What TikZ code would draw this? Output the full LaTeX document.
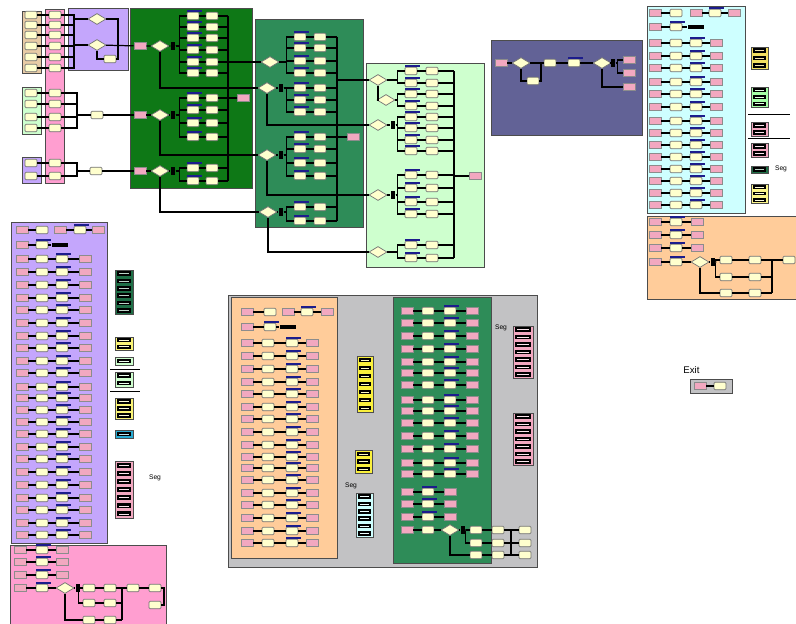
\documentclass[tikz,border=0pt]{standalone}
\usepackage{fontspec}
\setmainfont{Liberation Sans}
\usetikzlibrary{positioning, shapes.geometric}

\definecolor{dkgreen}{RGB}{14,120,22}
\definecolor{seagrn}{RGB}{46,140,88}
\definecolor{ltgreen}{RGB}{206,255,206}
\definecolor{lavender}{RGB}{196,166,252}
\definecolor{slate}{RGB}{98,98,150}
\definecolor{ltcyan}{RGB}{206,255,255}
\definecolor{peach}{RGB}{255,204,154}
\definecolor{rosa}{RGB}{255,158,208}
\definecolor{tanbg}{RGB}{232,204,166}
\definecolor{grybg}{RGB}{194,194,196}
\definecolor{entpink}{RGB}{242,168,192}
\definecolor{cream}{RGB}{255,255,206}
\definecolor{qblue}{RGB}{28,28,140}
\definecolor{lgdyel}{RGB}{250,240,60}
\definecolor{lgdcyan}{RGB}{40,170,210}
\definecolor{lgdgrn}{RGB}{30,110,70}

\tikzset{
  area/.style={draw=black!70, line width=0.5pt},
  ent/.style={draw=black!45, fill=entpink, minimum width=0.24cm, minimum height=0.15cm, inner sep=0pt},
  blk/.style={draw=black!55, fill=cream, minimum width=0.24cm, minimum height=0.15cm, inner sep=0pt, rounded corners=0.6pt},
  qbar/.style={fill=qblue, inner sep=0pt, minimum width=0.3cm, minimum height=0.9pt, xshift=1pt},
  qbox/.style={blk, label distance=0.6pt, label={[qbar]above:{}}},
  dec/.style={diamond, draw=black!55, fill=cream, minimum width=0.36cm, minimum height=0.22cm, inner sep=0pt},
  kbar/.style={fill=black, minimum width=0.09cm, minimum height=0.16cm, inner sep=0pt},
  kbox/.style={fill=black, minimum width=0.34cm, minimum height=0.09cm, inner sep=0pt},
  wire/.style={line width=0.7pt},
  tag/.style={font=\fontsize{3.8}{4.5}\selectfont, inner sep=0pt},
}

% four-step rows: arrive, process, seize, leave
\newcommand\rows[6]{%
  \foreach \y [count=\i] in {#6} {
    \node[ent] (#1\i-a) at (#2,\y) {};
    \node[blk] (#1\i-b) at (#3,\y) {};
    \node[qbox] (#1\i-c) at (#4,\y) {};
    \node[ent] (#1\i-d) at (#5,\y) {};
    \draw[wire] (#1\i-a) -- (#1\i-b) -- (#1\i-c) -- (#1\i-d);
  }}
% three-step rows
\newcommand\trio[5]{%
  \foreach \y [count=\i] in {#5} {
    \node[ent] (#1\i-a) at (#2,\y) {};
    \node[qbox] (#1\i-b) at (#3,\y) {};
    \node[ent] (#1\i-c) at (#4,\y) {};
    \draw[wire] (#1\i-a) -- (#1\i-b) -- (#1\i-c);
  }}
% the two rows on top of a block
\newcommand\head[8]{%
  \node[ent] (#1h-a) at (#2,#7) {};
  \node[blk] (#1h-b) at (#3,#7) {};
  \node[ent] (#1h-c) at (#4,#7) {};
  \node[qbox] (#1h-d) at (#5,#7) {};
  \node[ent] (#1h-e) at (#6,#7) {};
  \draw[wire] (#1h-a) -- (#1h-b);
  \draw[wire] (#1h-c) -- (#1h-d) -- (#1h-e);
  \node[ent] (#1g-a) at (#2,#8) {};
  \node[qbox] (#1g-b) at (#3,#8) {};
  \node[kbox] (#1g-c) at (#4,#8) {};
  \draw[wire] (#1g-a) -- (#1g-b) -- (#1g-c);
}
% branch: source node, two columns, rows, collector
\newcommand\fork[6]{%
  \foreach \y [count=\i] in {#5} {
    \node[qbox] (#1a\i) at (#3,\y) {};
    \node[blk] (#1b\i) at (#4,\y) {};
    \draw[wire] (#2.east) -| ([xshift=-0.14cm]#1a\i.west) -- (#1a\i) -- (#1b\i);
    \draw[wire] (#1b\i) -- (#1b\i.east -| #6);
  }}
% legend block with n bars
\newcommand\lgd[6]{%
  \path[area, fill=#5] (#1,#2) rectangle (#3,#4);
  \foreach \k in {1,...,#6} {
    \pgfmathsetmacro\ya{#2+(#4-#2)*(\k-0.8)/#6}
    \pgfmathsetmacro\yb{#2+(#4-#2)*(\k-0.2)/#6}
    \path[fill=black] (#1+2,\ya) rectangle (#3-2,\yb);
    \draw[white!70!#5, line width=0.3pt] (#1+4,{(\ya+\yb)/2}) -- (#3-4,{(\ya+\yb)/2});
  }}

\begin{document}
\begin{tikzpicture}[x=0.02cm, y=-0.02cm]
\useasboundingbox (0,0) rectangle (796,624);

% areas
\path[area, fill=tanbg] (22,11) rectangle (41,73);
\path[area, fill=rosa] (45,9) rectangle (64,183);
\path[area, fill=ltgreen] (22,87) rectangle (41,134);
\path[area, fill=lavender] (22,157) rectangle (41,183);
\path[area, fill=lavender] (68,8) rectangle (128,70);
\path[area, fill=dkgreen] (130,8) rectangle (252,188);
\path[area, fill=seagrn] (255,19) rectangle (363,227);
\path[area, fill=ltgreen] (366,63) rectangle (484,267);
\path[area, fill=slate] (491,40) rectangle (642,135);
\path[area, fill=ltcyan] (647,6) rectangle (745,213);
\path[area, fill=peach] (647,216) rectangle (796,299);
\path[area, fill=lavender] (11,222) rectangle (107,543);
\path[area, fill=rosa] (10,545) rectangle (166,624);
\path[area, fill=grybg] (228,295) rectangle (537,567);
\path[area, fill=peach] (231,297) rectangle (337,558);
\path[area, fill=seagrn] (393,297) rectangle (491,563);

% entry columns
\coordinate (ja) at (74,45);
\coordinate (jb) at (77,115);
\coordinate (jc) at (77,171);
\foreach \y [count=\i] in {15,25,35,46,57,68} {
  \node[blk] (tn\i) at (31,\y) {};
  \node[blk] (ps\i) at (55,\y) {};
  \draw[wire] (tn\i) -- (ps\i) -| (ja);
}
\foreach \y [count=\i] in {93,104,117,128} {
  \node[blk] (lb\i) at (31,\y) {};
  \node[blk] (pl\i) at (55,\y) {};
  \draw[wire] (lb\i) -- (pl\i) -| (jb);
}
\foreach \y [count=\i] in {163,176} {
  \node[blk] (vb\i) at (31,\y) {};
  \node[blk] (pv\i) at (55,\y) {};
  \draw[wire] (vb\i) -- (pv\i) -| (jc);
}

% priority block
\node[dec] (r1) at (97,19) {};
\node[dec] (r2) at (97,45) {};
\node[blk] (r3) at (110,59) {};
\coordinate (rk) at (118,46);
\draw[wire] (ja) -- (r2);
\draw[wire] (ja |- r1) -- (r1);
\draw[wire] (r1.east) -| (rk);
\draw[wire] (r2.south) |- (r3);
\draw[wire] (r3.east) -| (rk);
\node[blk] (bt1) at (97,115) {};
\node[blk] (bt2) at (96,171) {};

% dark green block
\node[ent] (g1e) at (140,46) {};
\node[dec] (g1d) at (160,46) {};
\node[kbar] (g1k) at (173,46) {};
\node[ent] (g2e) at (140,115) {};
\node[dec] (g2d) at (160,115) {};
\node[kbar] (g2k) at (173,115) {};
\node[ent] (g3e) at (140,171) {};
\node[dec] (g3d) at (160,171) {};
\node[kbar] (g3k) at (173,171) {};
\draw[wire] (r2) -- (g1e) -- (g1d) -- (g1k);
\draw[wire] (jb) -- (bt1) -- (g2e) -- (g2d) -- (g2k);
\draw[wire] (jc) -- (bt2) -- (g3e) -- (g3d) -- (g3k);
\coordinate (gtop) at (228,16);
\coordinate (gbot) at (228,181);
\draw[wire] (gtop) -- (gbot);
\fork{g1}{g1k}{193}{212}{16,27,38,50,62,73}{gtop}
\fork{g2}{g2k}{193}{212}{98,110,123,137}{gtop}
\fork{g3}{g3k}{193}{212}{168,181}{gtop}
\node[ent] (g2x) at (243,98) {};
\draw[wire] (g2b1) -- (g2x);

% sea green block
\node[dec] (sd1) at (270,62) {};
\node[dec] (sd2) at (267,88) {};
\node[kbar] (sk1) at (281,88) {};
\node[dec] (sd3) at (267,155) {};
\node[kbar] (sk2) at (281,155) {};
\node[dec] (sd4) at (268,212) {};
\node[kbar] (sk3) at (281,212) {};
\draw[wire] (gtop |- sd1) -- (sd1);
\draw[wire] (g1d.south) |- (sd2);
\draw[wire] (g2d.south) |- (sd3);
\draw[wire] (g3d.south) |- (sd4);
\draw[wire] (sd2) -- (sk1);
\draw[wire] (sd3) -- (sk2);
\draw[wire] (sd4) -- (sk3);
\coordinate (stop) at (337,37);
\coordinate (sbot) at (337,221);
\draw[wire] (stop) -- (sbot);
\fork{sg1}{sd1}{300}{320}{37,48,61,73}{stop}
\fork{sg2}{sk1}{300}{320}{88,100,112}{stop}
\fork{sg3}{sk2}{300}{320}{137,149,163,176}{stop}
\fork{sg4}{sk3}{300}{320}{207,221}{stop}
\node[ent] (sx) at (353,137) {};
\draw[wire] (stop |- sx) -- (sx);

% light green block
\node[dec] (ld1) at (378,80) {};
\node[dec] (ld2) at (386,100) {};
\node[dec] (ld3) at (378,125) {};
\node[kbar] (lk1) at (393,125) {};
\node[dec] (ld4) at (378,195) {};
\node[kbar] (lk2) at (393,195) {};
\node[dec] (ld5) at (378,252) {};
\draw[wire] (stop |- ld1) -- (ld1);
\draw[wire] (ld1.south) |- (ld2);
\draw[wire] (sd2.south) |- (ld3);
\draw[wire] (sd3.south) |- (ld4);
\draw[wire] (sd4.south) |- (ld5);
\draw[wire] (ld3) -- (lk1);
\draw[wire] (ld4) -- (lk2);
\coordinate (ltop) at (454,71);
\coordinate (lbot) at (454,258);
\draw[wire] (ltop) -- (lbot);
\fork{lg1}{ld1}{411}{432}{71,83}{ltop}
\fork{lg2}{ld2}{411}{432}{94,106}{ltop}
\fork{lg3}{lk1}{411}{432}{117,128,140,151}{ltop}
\fork{lg4}{lk2}{411}{432}{175,188,202,214}{ltop}
\fork{lg5}{ld5}{411}{432}{245,258}{ltop}
\node[ent] (lx) at (475,176) {};
\draw[wire] (ltop |- lx) -- (lx);

% slate block
\node[ent] (sle) at (501,63) {};
\node[dec] (sl1) at (521,63) {};
\node[blk] (sl2) at (550,63) {};
\node[qbox] (sl3) at (574,63) {};
\node[dec] (sl4) at (602,63) {};
\node[kbar] (slk) at (613,63) {};
\node[blk] (sl5) at (533,81) {};
\node[ent] (slp1) at (629,60) {};
\node[ent] (slp2) at (629,73) {};
\node[ent] (slp3) at (629,87) {};
\coordinate (slj) at (541,63);
\draw[wire] (sle) -- (sl1) -- (sl2) -- (sl3) -- (sl4) -- (slk);
\draw[wire] (sl1.south) |- (sl5);
\draw[wire] (sl5.east) -| (slj);
\draw[wire] (slk.east) -| ([xshift=-0.1cm]slp1.west) -- (slp1);
\draw[wire] (slk.east) -| ([xshift=-0.1cm]slp2.west) -- (slp2);
\draw[wire] (sl4.south) |- (slp3);

% cyan block
\head{cy}{655}{676}{696}{715}{734}{13}{27}
\rows{cy}{655}{676}{696}{716}{43,56,68,82,94,107,121,133,145,157,169,181,193,205}
\lgd{751}{47}{768}{69}{yellow!45!tanbg}{3}
\lgd{751}{87}{768}{107}{green!35}{3}
\draw (748,114) -- (790,114);
\lgd{751}{122}{768}{136}{entpink}{2}
\draw (748,138) -- (790,138);
\lgd{751}{143}{768}{157}{entpink}{2}
\lgd{751}{166}{768}{173}{lgdgrn}{1}
\lgd{751}{184}{768}{203}{lgdyel!60}{3}
\node[tag] (seg1) at (781,169) {Seg};

% peach block, right
\trio{pr}{655}{676}{697}{222,235,248}
\node[ent] (pr4a) at (655,262) {};
\node[qbox] (pr4b) at (676,262) {};
\node[dec] (prd) at (700,262) {};
\node[kbar] (prk) at (713,262) {};
\draw[wire] (pr4a) -- (pr4b) -- (prd) -- (prk);
\coordinate (prcol) at (772,260);
\foreach \y [count=\j] in {260,277,293} {
  \node[blk] (pra\j) at (726,\y) {};
  \node[blk] (prb\j) at (755,\y) {};
  \draw[wire] (pra\j) -- (prb\j) -- (prb\j.east -| prcol);
}
\draw[wire] (prk.east) -| ([xshift=-0.08cm]pra1.west) -- (pra1);
\draw[wire] (prk.east) -| ([xshift=-0.08cm]pra2.west) -- (pra2);
\draw[wire] (prd.south) |- (pra3);
\draw[wire] (prcol) -- (prcol |- prb3);
\node[blk] (prc1) at (789,260) {};
\draw[wire] (prb1) -- (prc1);

% lavender block, left
\head{lv}{22}{42}{60}{80}{98}{230}{245}
\rows{lv}{22}{42}{62}{85}{259,272,285,298,310,323,336,348,361,373,387,398,410,422,434,447,459,472,485,498,510,523,535}
\lgd{115}{270}{133}{314}{lgdgrn}{6}
\lgd{115}{337}{133}{350}{lgdyel!70}{2}
\lgd{115}{357}{133}{365}{ltgreen}{1}
\draw (110,369) -- (140,369);
\lgd{115}{372}{133}{387}{ltgreen}{2}
\draw (110,391) -- (140,391);
\lgd{115}{398}{133}{419}{lgdyel!70}{3}
\lgd{115}{430}{133}{438}{lgdcyan}{1}
\lgd{115}{461}{133}{518}{entpink}{7}
\node[tag] (seg2) at (155,478) {Seg};

% pink block, bottom left
\trio{pk}{20}{42}{62}{550,562,575}
\node[ent] (pk4a) at (20,588) {};
\node[qbox] (pk4b) at (42,588) {};
\node[dec] (pkd) at (65,588) {};
\node[kbar] (pkk) at (78,588) {};
\draw[wire] (pk4a) -- (pk4b) -- (pkd) -- (pkk);
\coordinate (pkcol) at (122,588);
\foreach \y [count=\j] in {588,603,620} {
  \node[blk] (pka\j) at (89,\y) {};
  \node[blk] (pkb\j) at (110,\y) {};
  \draw[wire] (pka\j) -- (pkb\j) -- (pkb\j.east -| pkcol);
}
\draw[wire] (pkk.east) -| ([xshift=-0.08cm]pka1.west) -- (pka1);
\draw[wire] (pkk.east) -| ([xshift=-0.08cm]pka2.west) -- (pka2);
\draw[wire] (pkd.south) |- (pka3);
\draw[wire] (pkcol) -- (pkcol |- pkb3);
\node[blk] (pkc1) at (133,588) {};
\node[blk] (pkc2) at (155,588) {};
\node[blk] (pkc3) at (155,605) {};
\coordinate (pkturn) at (164,596);
\draw[wire] (pkb1) -- (pkc1) -- (pkc2);
\draw[wire] (pkc2.east) -| (pkturn) |- (pkc3.east);

% gray block
\head{gp}{247}{270}{288}{307}{327}{312}{327}
\rows{gp}{247}{268}{292}{312}{343,356,369,382,394,407,419,432,445,457,468,480,493,505,518,531,543}
\rows{gg}{407}{428}{450}{472}{311,323,336,349,362,373,385,400,411,423,436,449,463,474}
\trio{gt}{407}{428}{450}{492,504,517}
\node[ent] (gg4a) at (407,530) {};
\node[blk] (gg4b) at (428,530) {};
\node[dec] (ggd) at (450,530) {};
\node[kbar] (ggk) at (463,530) {};
\draw[wire] (gg4a) -- (gg4b) -- (ggd) -- (ggk);
\coordinate (ggcol) at (511,530);
\foreach \y [count=\j] in {530,543,555} {
  \node[blk] (gga\j) at (476,\y) {};
  \node[blk] (ggb\j) at (498,\y) {};
  \node[blk] (ggc\j) at (525,\y) {};
  \draw[wire] (gga\j) -- (ggb\j) -- (ggb\j.east -| ggcol);
  \draw[wire] (ggc\j.west -| ggcol) -- (ggc\j);
}
\draw[wire] (ggk.east) -| ([xshift=-0.08cm]gga1.west) -- (gga1);
\draw[wire] (ggk.east) -| ([xshift=-0.08cm]gga2.west) -- (gga2);
\draw[wire] (ggd.south) |- (gga3);
\draw[wire] (ggcol) -- (ggcol |- ggb3);
\lgd{357}{356}{373}{412}{lgdyel}{7}
\lgd{355}{450}{372}{473}{lgdyel}{3}
\lgd{356}{493}{373}{537}{ltcyan}{6}
\lgd{513}{326}{533}{378}{entpink}{7}
\lgd{513}{413}{533}{465}{entpink}{7}
\node[tag] (seg3) at (351,486) {Seg};
\node[tag] (seg4) at (501,328) {Seg};

% exit
\node[font=\fontsize{5.5}{6}\selectfont, inner sep=0pt, anchor=base west] (exitlab) at (683,374) {Exit};
\path[area, fill=grybg] (690,379) rectangle (732,393);
\node[ent] (exa) at (700,386) {};
\node[blk] (exb) at (720,386) {};
\draw[wire] (exa) -- (exb);
\end{tikzpicture}
\end{document}
